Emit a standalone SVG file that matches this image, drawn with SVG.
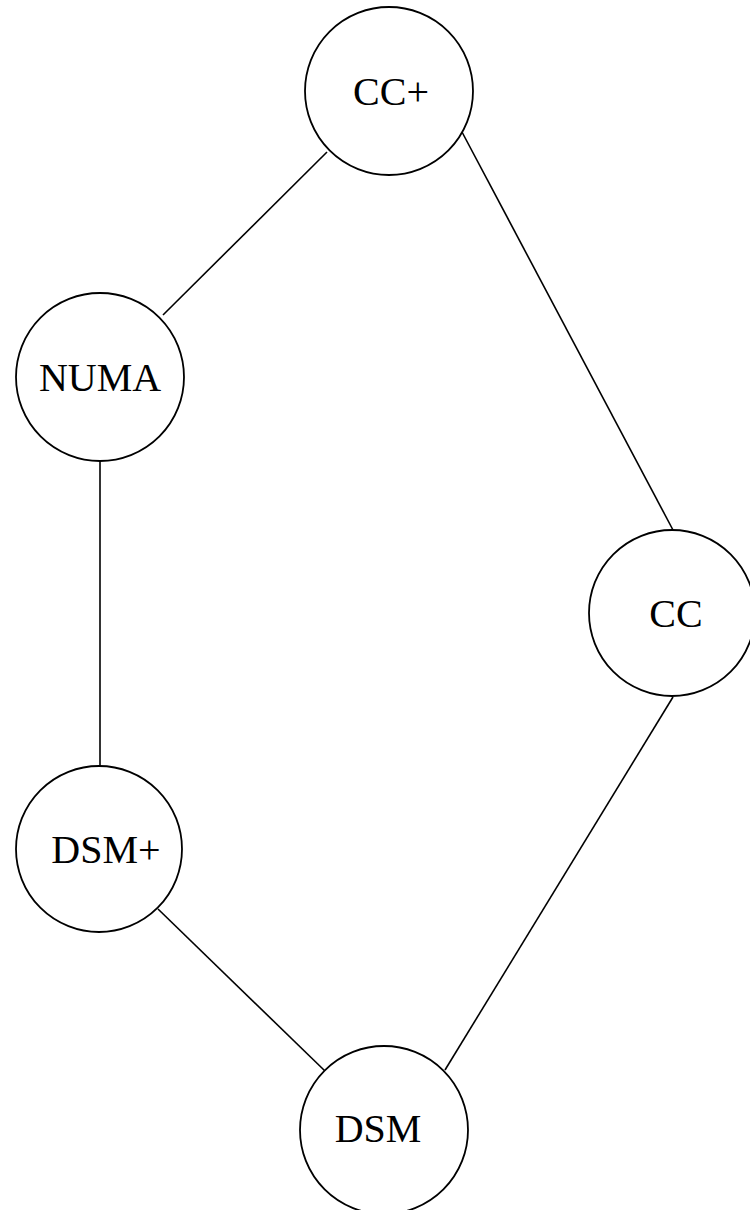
<svg xmlns="http://www.w3.org/2000/svg" width="750" height="1210" viewBox="0 0 750 1210">
<style>
.node{fill:#fff;stroke:#000;stroke-width:1.8}
.edge{stroke:#000;stroke-width:1.6;fill:none}
.lbl{font-family:"Liberation Serif","Times New Roman",serif;font-size:40px;fill:#000;text-anchor:middle;dominant-baseline:central}
</style>
<rect width="750" height="1210" fill="#fff"/>
<g id="connectors">
<line class="edge" x1="327" y1="152" x2="163" y2="315"/>
<line class="edge" x1="462" y1="132" x2="673" y2="530"/>
<line class="edge" x1="100" y1="460" x2="100" y2="766"/>
<line class="edge" x1="158" y1="909" x2="325" y2="1071"/>
<line class="edge" x1="673" y1="697" x2="445" y2="1070"/>
</g>
<g id="node-ccplus"><circle class="node" cx="389" cy="91" r="84"/><text class="lbl" x="391" y="91">CC+</text></g>
<g id="node-numa"><circle class="node" cx="100" cy="377" r="84"/><text class="lbl" x="100" y="377">NUMA</text></g>
<g id="node-cc"><circle class="node" cx="672" cy="613" r="83"/><text class="lbl" x="676" y="613">CC</text></g>
<g id="node-dsmplus"><circle class="node" cx="99" cy="849" r="83"/><text class="lbl" x="106" y="849">DSM+</text></g>
<g id="node-dsm"><circle class="node" cx="384" cy="1130" r="84"/><text class="lbl" x="378" y="1128">DSM</text></g>
</svg>
